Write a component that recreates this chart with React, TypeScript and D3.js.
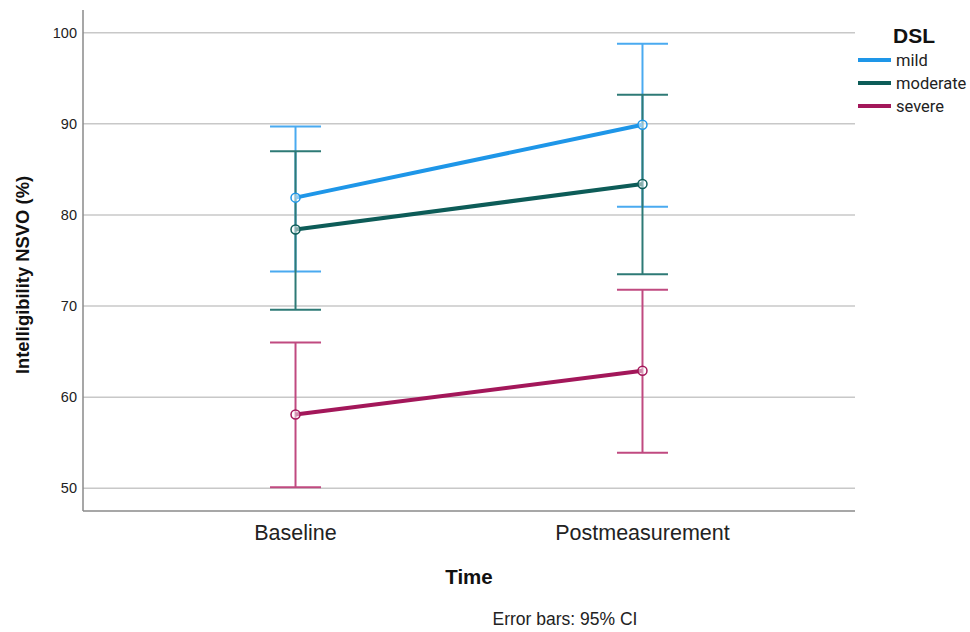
import React, { useEffect, useRef } from "react";
import * as d3 from "d3";

const times = ["Baseline", "Postmeasurement"];
const groups = ["mild", "moderate", "severe"];
const means = [
  [81.9, 89.9],
  [78.4, 83.4],
  [58.1, 62.9],
];
const lower = [
  [73.8, 80.9],
  [69.6, 73.5],
  [50.1, 53.9],
];
const upper = [
  [89.7, 98.8],
  [87.0, 93.2],
  [66.0, 71.8],
];
const yTicks = [50, 60, 70, 80, 90, 100];

const lineColors = ["#1e96e8", "#0d5c58", "#a3175a"];
const barColors = ["#4aaaf0", "#2e7a76", "#c04a80"];

const W = 970;
const H = 632;
const left = 83, right = 855, top = 10, bottom = 511;

export default function App() {
  const ref = useRef<SVGSVGElement>(null);

  useEffect(() => {
    const svg = d3.select(ref.current);
    svg.selectAll("*").remove();
    const font = "'Liberation Sans', Arial, sans-serif";

    const x = d3.scalePoint<string>().domain(times).range([left, right]).padding(0.6125);
    const y = d3.scaleLinear().domain([47.5, 102.5]).range([bottom, top]);

    // grid
    svg.append("g").selectAll("line").data(yTicks).enter().append("line")
      .attr("x1", left).attr("x2", right)
      .attr("y1", d => y(d)).attr("y2", d => y(d))
      .attr("stroke", "#c8c8c8").attr("stroke-width", 1.5);

    // axes lines
    svg.append("line").attr("x1", left).attr("x2", left).attr("y1", top).attr("y2", bottom)
      .attr("stroke", "#8a8a8a").attr("stroke-width", 1.5);
    svg.append("line").attr("x1", left).attr("x2", right).attr("y1", bottom).attr("y2", bottom)
      .attr("stroke", "#8a8a8a").attr("stroke-width", 1.5);

    // y tick labels
    svg.append("g").selectAll("text").data(yTicks).enter().append("text")
      .attr("x", left - 6).attr("y", d => y(d)).attr("dy", "0.35em")
      .attr("text-anchor", "end").attr("font-family", font).attr("font-size", 14.5)
      .attr("fill", "#222").text(d => d);

    // x tick labels
    svg.append("g").selectAll("text").data(times).enter().append("text")
      .attr("x", d => x(d)!).attr("y", 540)
      .attr("text-anchor", "middle").attr("font-family", font).attr("font-size", 21.5)
      .attr("fill", "#222").text(d => d);

    // axis titles
    svg.append("text").attr("x", 469).attr("y", 584).attr("text-anchor", "middle")
      .attr("font-family", font).attr("font-size", 20.5).attr("font-weight", "bold")
      .attr("fill", "#111").text("Time");
    svg.append("text").attr("transform", "translate(29,275) rotate(-90)")
      .attr("text-anchor", "middle").attr("font-family", font).attr("font-size", 18.4)
      .attr("font-weight", "bold").attr("fill", "#111").text("Intelligibility NSVO (%)");
    svg.append("text").attr("x", 565).attr("y", 625).attr("text-anchor", "middle")
      .attr("font-family", font).attr("font-size", 17.5).attr("fill", "#222")
      .text("Error bars: 95% CI");

    const cap = 25.5;
    // error bars
    groups.forEach((g, gi) => {
      const eg = svg.append("g").attr("stroke", barColors[gi]).attr("stroke-width", 2);
      times.forEach((t, ti) => {
        const cx = x(t)!;
        eg.append("line").attr("x1", cx).attr("x2", cx)
          .attr("y1", y(lower[gi][ti])).attr("y2", y(upper[gi][ti]));
        eg.append("line").attr("x1", cx - cap).attr("x2", cx + cap)
          .attr("y1", y(lower[gi][ti])).attr("y2", y(lower[gi][ti]));
        eg.append("line").attr("x1", cx - cap).attr("x2", cx + cap)
          .attr("y1", y(upper[gi][ti])).attr("y2", y(upper[gi][ti]));
      });
    });

    // mean lines & markers
    const line = d3.line<number>().x((_, i) => x(times[i])!).y(d => y(d));
    groups.forEach((g, gi) => {
      svg.append("path").attr("d", line(means[gi])!).attr("fill", "none")
        .attr("stroke", lineColors[gi]).attr("stroke-width", 4);
      svg.append("g").selectAll("circle").data(means[gi]).enter().append("circle")
        .attr("cx", (_, i) => x(times[i])!).attr("cy", d => y(d)).attr("r", 4.5)
        .attr("fill", "white").attr("fill-opacity", 0.5)
        .attr("stroke", lineColors[gi]).attr("stroke-width", 1.5);
    });

    // legend
    svg.append("text").attr("x", 914).attr("y", 43).attr("text-anchor", "middle")
      .attr("font-family", font).attr("font-size", 21).attr("font-weight", "bold")
      .attr("fill", "#111").text("DSL");
    const lg = svg.append("g").selectAll("g").data(groups).enter().append("g")
      .attr("transform", (_, i) => `translate(0,${60 + i * 23})`);
    lg.append("line").attr("x1", 858).attr("x2", 891).attr("y1", 0).attr("y2", 0)
      .attr("stroke", (_, i) => lineColors[i]).attr("stroke-width", 4);
    lg.append("text").attr("x", 896).attr("y", 0).attr("dy", "0.35em")
      .attr("font-family", "Roboto, 'Liberation Sans', sans-serif").attr("font-size", 16.5).attr("fill", "#222")
      .text(d => d);
  }, []);

  return (
    <svg ref={ref} width={W} height={H} style={{ position: "absolute", left: 0, top: 0, background: "white" }} />
  );
}
